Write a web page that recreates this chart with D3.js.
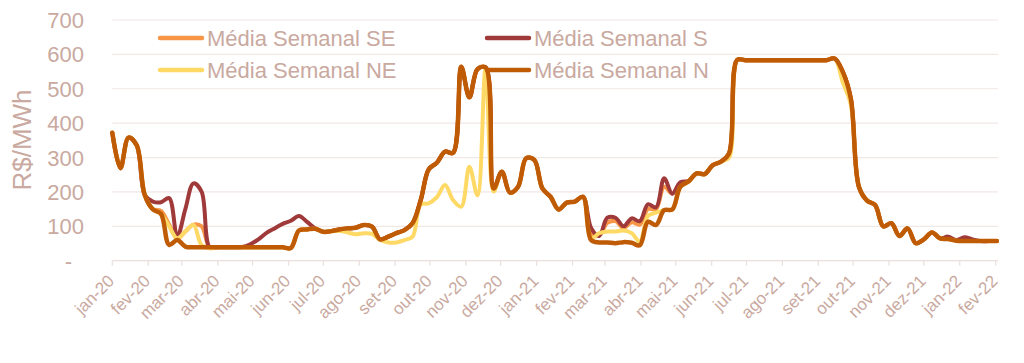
<!DOCTYPE html>
<html><head><meta charset="utf-8">
<script src="https://cdn.jsdelivr.net/npm/d3@7"></script>
<style>
body{margin:0;background:#fff;}
svg text{font-family:"Liberation Sans",Arial,sans-serif;fill:#c9a9a0;}
</style>
</head><body>
<svg id="chart" width="1024" height="363"></svg>
<script>
// ---- data ----
const monthNames = ["jan","fev","mar","abr","mai","jun","jul","ago","set","out","nov","dez"];
const yTicks = [0,100,200,300,400,500,600,700];
const seriesNames = ["Média Semanal SE","Média Semanal S","Média Semanal NE","Média Semanal N"];
const firstWeek = "2020-01-01"; // weekly points, one per week
const weekCount = 110;

const valuesN = [372,269,358,336,191,149,136,46,60,41,
 39,39,39,39,39,39,39,39,39,39,
 39,39,37,88,91,93,84,86,91,94,
 96,104,99,62,70,80,89,109,176,266,
 285,317,314,564,475,557,562,210,259,198,
 215,298,293,210,186,149,169,172,186,60,
 53,53,51,54,52,45,113,104,147,149,
 215,230,254,252,278,288,312,584,583,583,
 583,583,583,583,583,583,583,583,583,588,
 550,472,215,175,162,100,109,72,94,51,
 62,82,65,63,58,57,57,57,57,57];

const valuesS = [372,269,358,336,191,172,170,182,70,150,
 225,201,39,39,39,39,40,48,62,81,
 94,107,116,130,113,94,84,86,91,94,
 96,104,99,62,70,80,89,109,176,266,
 285,317,314,564,475,557,562,210,259,198,
 215,298,293,210,186,149,169,172,186,95,
 72,125,125,100,123,115,164,155,240,195,
 228,232,254,252,278,288,312,584,583,583,
 583,583,583,583,583,583,583,583,583,588,
 550,472,215,175,162,100,109,72,94,51,
 62,82,65,70,60,68,62,57,57,57];

const valuesSE = [372,269,358,336,191,150,145,105,65,85,
 105,100,38,39,39,39,39,39,39,39,
 39,39,37,88,91,93,84,86,91,94,
 96,104,99,62,70,80,89,109,176,266,
 285,317,314,564,475,557,562,210,259,198,
 215,298,293,210,186,149,169,172,186,80,
 75,110,115,95,112,105,150,150,215,195,
 225,232,254,252,278,288,312,584,583,583,
 583,583,583,583,583,583,583,583,583,588,
 550,472,215,175,162,100,109,72,94,51,
 62,82,65,63,58,57,57,57,57,57];

const valuesNE = [372,269,358,336,191,150,135,100,65,85,
 104,45,36,39,39,39,39,39,39,39,
 39,39,37,88,91,93,84,86,86,82,
 77,80,78,60,53,53,60,70,163,167,
 185,220,176,157,273,190,560,201,259,198,
 215,298,293,210,186,149,169,172,186,65,
 80,85,85,88,80,55,130,140,147,149,
 215,230,254,252,278,288,300,584,583,583,
 583,583,583,583,583,583,583,583,583,588,
 520,455,215,175,162,100,109,72,94,51,
 62,82,65,63,58,57,57,57,57,57];

// ---- styles ----
const colors = {SE:"#f79646", S:"#a0393a", NE:"#ffd966", N:"#bf5b04"};
const textColor = "#c9a9a0";
const gridColor = "#f1e7e5";

const svg = d3.select("#chart");
const start = d3.utcParse("%Y-%m-%d")(firstWeek);
const weeks = d3.range(weekCount).map(i => d3.utcDay.offset(start, 7*i));

const x = d3.scaleUtc().domain([new Date(Date.UTC(2020,0,1)), new Date(Date.UTC(2022,1,1))]).range([112.3, 995.7]);
const y = d3.scaleLinear().domain([0,700]).range([260.7, 20]);
const xEnd = 998;

// gridlines
svg.append("g").selectAll("line").data(yTicks.filter(d=>d>0)).join("line")
  .attr("x1", x.range()[0]).attr("x2", xEnd)
  .attr("y1", d=>y(d)).attr("y2", d=>y(d))
  .attr("stroke", gridColor).attr("stroke-width", 1.2);

// x axis line and ticks
const monthTicks = d3.utcMonth.range(x.domain()[0], d3.utcDay.offset(x.domain()[1],1));
svg.append("line").attr("x1", x.range()[0]).attr("x2", xEnd)
  .attr("y1", y(0)).attr("y2", y(0)).attr("stroke", "#eadfdc").attr("stroke-width", 1.2);
svg.append("g").selectAll("line").data(monthTicks).join("line")
  .attr("x1", d=>x(d)).attr("x2", d=>x(d))
  .attr("y1", y(0)).attr("y2", y(0)+5)
  .attr("stroke", "#eadfdc").attr("stroke-width", 1.2);
svg.append("g").selectAll("text").data(monthTicks).join("text")
  .attr("transform", d=>`translate(${x(d)+3},${282}) rotate(-45)`)
  .attr("text-anchor","end")
  .attr("font-size", 17)
  .text(d => monthNames[d.getUTCMonth()] + "-" + String(d.getUTCFullYear()).slice(2));

// y tick labels
svg.append("g").selectAll("text").data(yTicks).join("text")
  .attr("x", d => d===0 ? 72 : 84)
  .attr("y", d => y(d)+8)
  .attr("text-anchor","end")
  .attr("font-size", 22)
  .text(d => d===0 ? "-" : d3.format("d")(d));

// y title
svg.append("text").attr("transform","translate(31,140) rotate(-90)")
  .attr("text-anchor","middle").attr("font-size",26).text("R$/MWh");

// lines
const line = d3.line().x((d,i)=>x(weeks[i])).y(d=>y(d)).curve(d3.curveCatmullRom.alpha(0.5));
const series = [
  {key:"SE", values:valuesSE, w:4},
  {key:"S", values:valuesS, w:4},
  {key:"NE", values:valuesNE, w:4},
  {key:"N", values:valuesN, w:4.5}
];
svg.append("g").selectAll("path").data(series).join("path")
  .attr("d", d=>line(d.values))
  .attr("fill","none")
  .attr("stroke", d=>colors[d.key])
  .attr("stroke-width", d=>d.w)
  .attr("stroke-linejoin","round").attr("stroke-linecap","round");

// legend
const legendPos = [[160,38],[487,38],[160,70],[487,70]];
const lg = svg.append("g").selectAll("g").data(series).join("g")
  .attr("transform",(d,i)=>`translate(${legendPos[i][0]},${legendPos[i][1]})`);
lg.append("line").attr("x1",0).attr("x2",42).attr("y1",0).attr("y2",0)
  .attr("stroke",d=>colors[d.key]).attr("stroke-width",4.5).attr("stroke-linecap","round");
lg.append("text").attr("x",47).attr("y",8).attr("font-size",22)
  .text((d,i)=>seriesNames[i]);
</script>
</body></html>
